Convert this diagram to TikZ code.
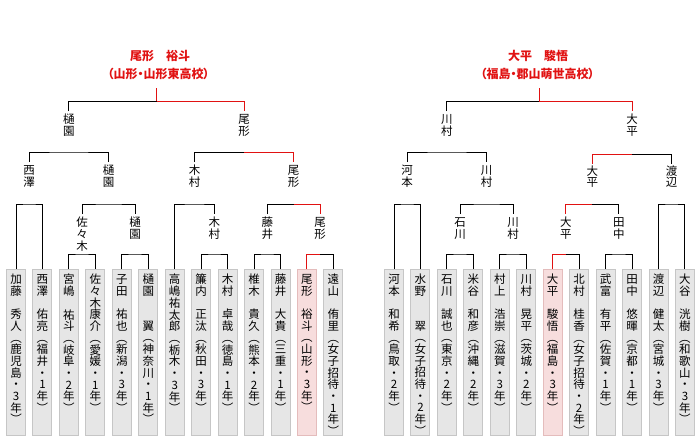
\documentclass[tikz,border=0pt]{standalone}
\usepackage{fontspec}
\setmainfont{Noto Sans CJK JP}
\usetikzlibrary{calc}
\definecolor{refred}{RGB}{225,18,18}
\definecolor{boxfill}{RGB}{230,230,230}
\definecolor{boxdraw}{RGB}{198,198,198}
\definecolor{pinkfill}{RGB}{247,221,221}
\definecolor{pinkdraw}{RGB}{228,188,188}
\def\vcEnd{}
\newcommand\vcell[1]{\hbox to 12pt{\hss\vrule height 9.5pt depth 2.1pt width 0pt #1\hss}}
\def\vcA#1{\ifx#1\vcEnd\else\vcell{#1}\expandafter\vcA\fi}
\newcommand\vchars[1]{\vbox{\offinterlineskip\vcA#1\vcEnd}}
\newcommand\player[4]{%
  \node[#3] (#1) at (#2,269) {};
  \node[btxt] (#1t) at (#2,274) {\vchars{#4}};}
\tikzset{
  pbox/.style={draw=boxdraw, fill=boxfill, line width=1pt, minimum width=19pt,
    minimum height=166pt, inner sep=0pt, anchor=north},
  wbox/.style={pbox, draw=pinkdraw, fill=pinkfill},
  btxt/.style={anchor=north, inner sep=0pt, font=\fontsize{11.5}{11.6}\selectfont},
  lbl/.style={anchor=north, inner xsep=0pt, inner ysep=3pt, font=\fontsize{11.5}{11.6}\selectfont},
  champ/.style={text=refred, font=\fontsize{12}{14}\selectfont\bfseries, inner sep=0pt},
  palt/.style={font=\fontsize{12}{14}\selectfont\bfseries\addfontfeature{RawFeature=+palt}},
  ln/.style={draw=black, line width=1pt},
  win/.style={draw=refred, line width=1pt},
}
\begin{document}
\begin{tikzpicture}[x=1pt,y=-1pt]
\useasboundingbox[fill=white] (0,0) rectangle (700,437);
% ---------- left players ----------
\player{a0}{16.00}{pbox}{加藤　秀人︵鹿児島・3年︶}
\player{a1}{42.45}{pbox}{西澤　佑亮︵福井・1年︶}
\player{a2}{68.90}{pbox}{宮嶋　祐斗︵岐阜・2年︶}
\player{a3}{95.35}{pbox}{佐々木康介︵愛媛・1年︶}
\player{a4}{121.80}{pbox}{子田　祐也︵新潟・3年︶}
\player{a5}{148.25}{pbox}{樋園　　翼︵神奈川・1年︶}
\player{a6}{174.70}{pbox}{高嶋祐太郎︵栃木・3年︶}
\player{a7}{201.15}{pbox}{簾内　正汰︵秋田・3年︶}
\player{a8}{227.60}{pbox}{木村　卓哉︵徳島・1年︶}
\player{a9}{254.05}{pbox}{椎木　貴久︵熊本・2年︶}
\player{a10}{280.50}{pbox}{藤井　大貴︵三重・1年︶}
\player{a11}{306.95}{wbox}{尾形　裕斗︵山形・3年︶}
\player{a12}{333.40}{pbox}{遠山　侑里︵女子招待・1年︶}
% ---------- right players ----------
\player{b0}{394.00}{pbox}{河本　和希︵鳥取・2年︶}
\player{b1}{420.45}{pbox}{水野　　翠︵女子招待・2年︶}
\player{b2}{446.90}{pbox}{石川　誠也︵東京・2年︶}
\player{b3}{473.35}{pbox}{米谷　和彦︵沖縄・2年︶}
\player{b4}{499.80}{pbox}{村上　浩崇︵滋賀・3年︶}
\player{b5}{526.25}{pbox}{川村　晃平︵茨城・2年︶}
\player{b6}{552.70}{wbox}{大平　駿悟︵福島・3年︶}
\player{b7}{579.15}{pbox}{北村　桂香︵女子招待・2年︶}
\player{b8}{605.60}{pbox}{武富　有平︵佐賀・1年︶}
\player{b9}{632.05}{pbox}{田中　悠暉︵京都・1年︶}
\player{b10}{658.50}{pbox}{渡辺　健太︵宮城・3年︶}
\player{b11}{684.95}{pbox}{大谷　洸樹︵和歌山・3年︶}
% ---------- left labels ----------
\node[lbl] (la1) at (82.125,214) {\vchars{佐々木}};
\node[lbl] (la2) at (135.025,214) {\vchars{樋園}};
\node[lbl] (la3) at (214.375,214) {\vchars{木村}};
\node[lbl] (la4) at (267.275,214) {\vchars{藤井}};
\node[lbl] (la5) at (320.175,214) {\vchars{尾形}};
\node[lbl] (lb1) at (29.225,162) {\vchars{西澤}};
\node[lbl] (lb2) at (108.575,162) {\vchars{樋園}};
\node[lbl] (lb3) at (194.54,162) {\vchars{木村}};
\node[lbl] (lb4) at (293.725,162) {\vchars{尾形}};
\node[lbl] (lc1) at (68.9,111) {\vchars{樋園}};
\node[lbl] (lc2) at (244.13,111) {\vchars{尾形}};
\node[champ] (lchn) at (160,56) {尾形　裕斗};
\node[champ,palt] (lchs) at (158.5,74) {（山形・山形東高校）};
% ---------- right labels ----------
\node[lbl] (ra1) at (460.125,214) {\vchars{石川}};
\node[lbl] (ra2) at (513.025,214) {\vchars{川村}};
\node[lbl] (ra3) at (565.925,214) {\vchars{大平}};
\node[lbl] (ra4) at (618.825,214) {\vchars{田中}};
\node[lbl] (rb1) at (407.225,162) {\vchars{河本}};
\node[lbl] (rb2) at (486.575,162) {\vchars{川村}};
\node[lbl, inner ysep=1.5pt] (rb3) at (592.375,164) {\vchars{大平}};
\node[lbl, inner ysep=1.5pt] (rb4) at (671.725,164) {\vchars{渡辺}};
\node[lbl] (rc1) at (446.9,111) {\vchars{川村}};
\node[lbl] (rc2) at (632.05,111) {\vchars{大平}};
\node[champ] (rchn) at (538,56) {大平　駿悟};
\node[champ,palt] (rchs) at (537.5,74) {（福島・郡山萌世高校）};
% ---------- junction coordinates ----------
\coordinate (lcs) at (156.5,88);
\coordinate (LF) at (156.5,101);
\coordinate (J1) at (68.9,152);
\coordinate (J2) at (244.13,152);
\coordinate (J3) at (29.225,204);
\coordinate (J4) at (108.575,204);
\coordinate (J5) at (194.54,204);
\coordinate (J6) at (293.725,204);
\coordinate (J7) at (82.125,254);
\coordinate (J8) at (135.025,254);
\coordinate (J9) at (214.375,254);
\coordinate (J10) at (267.275,254);
\coordinate (J11) at (320.175,254);
\coordinate (rcs) at (539.475,88);
\coordinate (K0) at (539.475,101);
\coordinate (K1) at (446.9,152);
\coordinate (K2) at (632.05,154);
\coordinate (K3) at (407.225,204);
\coordinate (K4) at (486.575,204);
\coordinate (K5) at (592.375,204);
\coordinate (K6) at (671.725,204);
\coordinate (K7) at (460.125,254);
\coordinate (K8) at (513.025,254);
\coordinate (K9) at (565.925,254);
\coordinate (K10) at (618.825,254);
% ---------- left connectors ----------
\draw[win] (lcs) -- (LF);
\draw[ln] (lc1.north) |- (LF);
\draw[win] (LF) -| (lc2.north);
\draw[ln] (lb1.north) |- (J1) -| (lb2.north);
\draw[ln] (lb3.north) |- (J2);
\draw[win] (J2) -| (lb4.north);
\draw[ln] (a0.north) |- (J3) -| (a1.north);
\draw[ln] (la1.north) |- (J4) -| (la2.north);
\draw[ln] (a6.north) |- (J5) -| (la3.north);
\draw[ln] (la4.north) |- (J6);
\draw[win] (J6) -| (la5.north);
\draw[ln] (a2.north) |- (J7) -| (a3.north);
\draw[ln] (a4.north) |- (J8) -| (a5.north);
\draw[ln] (a7.north) |- (J9) -| (a8.north);
\draw[ln] (a9.north) |- (J10) -| (a10.north);
\draw[ln] (J11) -| (a12.north);
\draw[win] (a11.north) |- (J11);
% ---------- right connectors ----------
\draw[win] (rcs) -- (K0);
\draw[ln] (rc1.north) |- (K0);
\draw[win] (K0) -| (rc2.north);
\draw[ln] (rb1.north) |- (K1) -| (rb2.north);
\draw[ln] (K2) -| (rb4.north);
\draw[win] (rb3.north) |- (K2);
\draw[ln] (b0.north) |- (K3) -| (b1.north);
\draw[ln] (ra1.north) |- (K4) -| (ra2.north);
\draw[ln] (K5) -| (ra4.north);
\draw[win] (ra3.north) |- (K5);
\draw[ln] (b10.north) |- (K6) -| (b11.north);
\draw[ln] (b2.north) |- (K7) -| (b3.north);
\draw[ln] (b4.north) |- (K8) -| (b5.north);
\draw[ln] (K9) -| (b7.north);
\draw[win] (b6.north) |- (K9);
\draw[ln] (b8.north) |- (K10) -| (b9.north);
\end{tikzpicture}
\end{document}
